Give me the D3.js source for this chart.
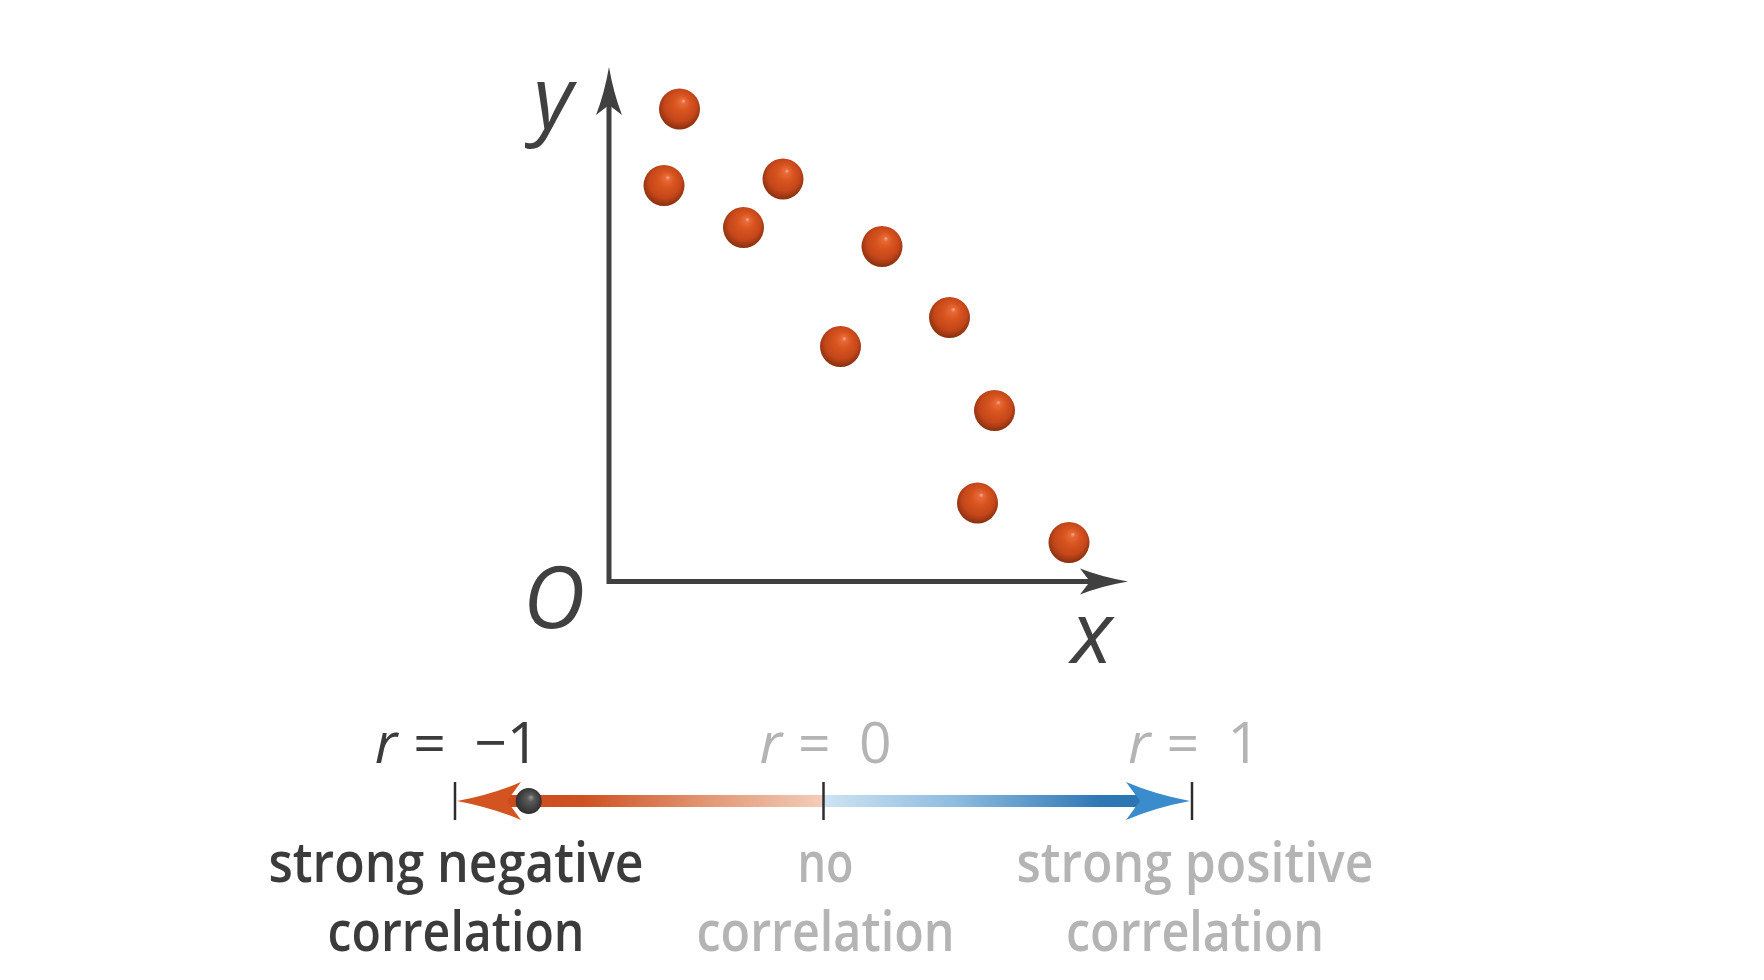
<!DOCTYPE html>
<html>
<head>
<meta charset="utf-8">
<script src="https://cdn.jsdelivr.net/npm/d3@7"></script>
<style>
  html, body { margin: 0; padding: 0; background: #ffffff; }
  svg { display: block; }
  text { font-family: "Open Sans", "Noto Sans", sans-serif; }
</style>
</head>
<body>
<svg id="chart" width="1764" height="980"></svg>
<script>
// ---------- data ----------
const pointX = [1.41, 1.10, 3.48, 2.69, 5.46, 4.63, 6.81, 7.71, 7.37, 9.20];
const pointY = [9.45, 7.92, 8.05, 7.08, 6.70, 4.70, 5.28, 3.42, 1.57, 0.78];
const axisLabels = ["x", "y", "O"];
const rTicks = [-1, 0, 1];
const rTickLabels = ["= \u22121", "= 0", "= 1"];
const rDescLine1 = ["strong negative", "no", "strong positive"];
const rDescLine2 = ["correlation", "correlation", "correlation"];
const rActive = [true, false, false];
const rValue = -0.8;

// ---------- setup ----------
const svg = d3.select("#chart");
const dark = "#3b3b3b", light = "#b4b4b4", axisCol = "#404040";

const x = d3.scaleLinear().domain([0, 10]).range([609, 1109]);
const y = d3.scaleLinear().domain([0, 10]).range([581.5, 81.5]);

const defs = svg.append("defs");
const ballGrad = defs.append("radialGradient").attr("id", "ball")
  .attr("cx", "50%").attr("cy", "45%").attr("r", "55%")
  .attr("fx", "60%").attr("fy", "30%");
[["0%", "#f5b196"], ["10%", "#e86a3a"], ["35%", "#d9551f"], ["72%", "#c4461a"], ["100%", "#87300f"]]
  .forEach(([o, c]) => ballGrad.append("stop").attr("offset", o).attr("stop-color", c));

const dotGrad = defs.append("radialGradient").attr("id", "dot")
  .attr("cx", "50%").attr("cy", "50%").attr("r", "55%")
  .attr("fx", "60%").attr("fy", "35%");
[["0%", "#9a9a9a"], ["25%", "#5a5a5a"], ["100%", "#2a2a2a"]]
  .forEach(([o, c]) => dotGrad.append("stop").attr("offset", o).attr("stop-color", c));

// ---------- axes ----------
const x0 = x(0), y0 = y(0);
const xTip = x(10.38), yTip = y(10.29);
svg.append("path")
  .attr("d", `M${x0},${yTip + 20} L${x0},${y0} L${xTip - 20},${y0}`)
  .attr("fill", "none").attr("stroke", axisCol).attr("stroke-width", 5)
  .attr("stroke-linejoin", "miter");

function arrowHead(tx, ty, dir, len, half, notch) {
  const [dx, dy] = dir;
  const px = -dy, py = dx;
  const bx = tx - dx * len, by = ty - dy * len;
  const nx = tx - dx * (len - notch), ny = ty - dy * (len - notch);
  const cx1 = tx - dx * len * 0.55, cy1 = ty - dy * len * 0.55;
  return `M${tx},${ty}` +
    ` Q${cx1 + px * half * 0.35},${cy1 + py * half * 0.35} ${bx + px * half},${by + py * half}` +
    ` L${nx},${ny}` +
    ` L${bx - px * half},${by - py * half}` +
    ` Q${cx1 - px * half * 0.35},${cy1 - py * half * 0.35} ${tx},${ty} Z`;
}
svg.append("path").attr("d", arrowHead(xTip, y0, [1, 0], 48, 13, 10)).attr("fill", axisCol);
svg.append("path").attr("d", arrowHead(x0, yTip, [0, -1], 48, 13, 10)).attr("fill", axisCol);

// axis labels
const labelPos = {
  x: [x(9.66), y0 + 81],
  y: [x(-1.12), y(9.07)],
  O: [x(-1.1), y0 + 46.5]
};
svg.selectAll("text.axislab").data(axisLabels).join("text")
  .attr("class", "axislab")
  .attr("x", d => labelPos[d][0]).attr("y", d => labelPos[d][1])
  .attr("text-anchor", "middle")
  .attr("font-size", 86).attr("font-style", "italic")
  .attr("fill", axisCol)
  .text(d => d);

// ---------- points ----------
const pts = pointX.map((v, i) => ({ x: v, y: pointY[i] }));
svg.selectAll("circle.pt").data(pts).join("circle")
  .attr("class", "pt")
  .attr("cx", d => x(d.x)).attr("cy", d => y(d.y)).attr("r", 20.5)
  .attr("fill", "url(#ball)");

// ---------- correlation scale ----------
const r = d3.scaleLinear().domain([-1, 1]).range([455, 1192]);
const barY = 801;

const gNeg = defs.append("linearGradient").attr("id", "gneg")
  .attr("gradientUnits", "userSpaceOnUse")
  .attr("x1", r(-1)).attr("x2", r(0)).attr("y1", 0).attr("y2", 0);
[["0%", "#c84515"], ["35%", "#cf5222"], ["70%", "#e39a78"], ["100%", "#f3cdbb"]]
  .forEach(([o, c]) => gNeg.append("stop").attr("offset", o).attr("stop-color", c));
const gPos = defs.append("linearGradient").attr("id", "gpos")
  .attr("gradientUnits", "userSpaceOnUse")
  .attr("x1", r(0)).attr("x2", r(1)).attr("y1", 0).attr("y2", 0);
[["0%", "#cfe3f2"], ["35%", "#8fbde0"], ["75%", "#2e78b6"], ["100%", "#2a6fae"]]
  .forEach(([o, c]) => gPos.append("stop").attr("offset", o).attr("stop-color", c));

const barH = 12;
svg.append("rect").attr("x", r(-1) + 40).attr("y", barY - barH / 2)
  .attr("width", r(0) - r(-1) - 40).attr("height", barH).attr("fill", "url(#gneg)");
svg.append("rect").attr("x", r(0)).attr("y", barY - barH / 2)
  .attr("width", r(1) - r(0) - 40).attr("height", barH).attr("fill", "url(#gpos)");

svg.append("path").attr("d", arrowHead(r(-1) + 2, barY, [-1, 0], 64, 19, 14)).attr("fill", "#d35420");
svg.append("path").attr("d", arrowHead(r(1) - 2, barY, [1, 0], 64, 19, 14)).attr("fill", "#3a8ccc");

svg.selectAll("line.rtick").data(rTicks).join("line")
  .attr("class", "rtick")
  .attr("x1", d => r(d)).attr("x2", d => r(d))
  .attr("y1", barY - 19).attr("y2", barY + 19)
  .attr("stroke", "#2d2d2d").attr("stroke-width", 2.5);

svg.append("circle").attr("cx", r(rValue)).attr("cy", barY).attr("r", 13)
  .attr("fill", "url(#dot)");

// r labels
const rl = svg.selectAll("text.rlab").data(rTicks).join("text")
  .attr("class", "rlab")
  .attr("x", d => r(d) + 2).attr("y", 763)
  .attr("text-anchor", "middle")
  .attr("font-size", 57).attr("font-weight", 500)
  .attr("fill", (d, i) => rActive[i] ? dark : light);
rl.append("tspan").attr("font-style", "italic").text("r");
rl.append("tspan").attr("dx", 16).text((d, i) => rTickLabels[i].replace(" ", "\u2009\u2009\u2009"));

// description labels
const lw1 = [375, 56, 357], lw2 = [257, 258, 258];
svg.selectAll("text.d1").data(rTicks).join("text")
  .attr("class", "d1")
  .attr("x", (d, i) => r(d) + [1, 2, 3][i]).attr("y", 882)
  .attr("text-anchor", "middle")
  .attr("font-size", 56).attr("font-weight", 650)
  .attr("textLength", (d, i) => lw1[i]).attr("lengthAdjust", "spacingAndGlyphs")
  .attr("fill", (d, i) => rActive[i] ? dark : light)
  .text((d, i) => rDescLine1[i]);
svg.selectAll("text.d2").data(rTicks).join("text")
  .attr("class", "d2")
  .attr("x", (d, i) => r(d) + [1, 2, 3][i]).attr("y", 951)
  .attr("text-anchor", "middle")
  .attr("font-size", 56).attr("font-weight", 650)
  .attr("textLength", (d, i) => lw2[i]).attr("lengthAdjust", "spacingAndGlyphs")
  .attr("fill", (d, i) => rActive[i] ? dark : light)
  .text((d, i) => rDescLine2[i]);
</script>
</body>
</html>
